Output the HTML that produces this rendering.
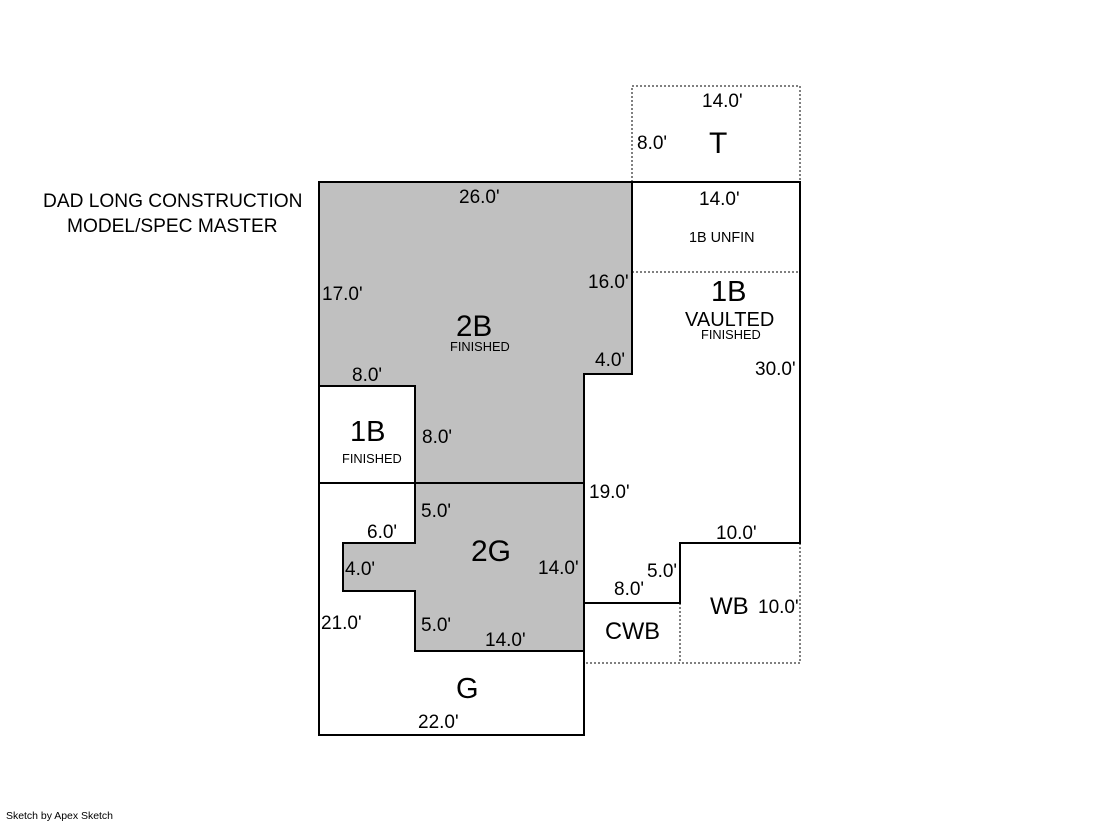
<!DOCTYPE html>
<html><head><meta charset="utf-8"><style>
html,body{margin:0;padding:0;background:#fff}
svg{display:block}
text{font-family:"Liberation Sans",Arial,sans-serif;fill:#000}
.d{font-size:19px}
.b{font-size:29px}
.m{font-size:20px}
.s{font-size:12.8px}
</style></head><body>
<svg width="1119" height="821" viewBox="0 0 1119 821" xmlns="http://www.w3.org/2000/svg">
<rect width="1119" height="821" fill="#fff"/>
<path d="M319 182H632V374H584V483H415V386H319Z" fill="#c0c0c0"/>
<path d="M415 483H584V651H415V591H343V543H415Z" fill="#c0c0c0"/>
<g fill="none" stroke="#808080" stroke-width="2" stroke-dasharray="2 2">
<path d="M632 182V86H800V182"/>
<path d="M632 272H800"/>
<path d="M800 543V663H584"/>
<path d="M680 603V663"/>
</g>
<g fill="none" stroke="#000" stroke-width="2">
<path d="M319 735V182H801M800 182V272"/>
<path d="M800 272V544M801 543H680V603H584V735H318"/>
<path d="M632 182V374H584V603"/>
<path d="M319 386H415V543H343V591H415V651H584"/>
<path d="M319 483H584"/>
</g>
<text x="702" y="107" class="d">14.0'</text>
<text x="637" y="149" class="d">8.0'</text>
<text x="699" y="205" class="d">14.0'</text>
<text x="459" y="203" class="d">26.0'</text>
<text x="322" y="300" class="d">17.0'</text>
<text x="588" y="288" class="d">16.0'</text>
<text x="595" y="366" class="d">4.0'</text>
<text x="352" y="381" class="d">8.0'</text>
<text x="422" y="443" class="d">8.0'</text>
<text x="755" y="375" class="d">30.0'</text>
<text x="589" y="498" class="d">19.0'</text>
<text x="421" y="517" class="d">5.0'</text>
<text x="367" y="538" class="d">6.0'</text>
<text x="345" y="575" class="d">4.0'</text>
<text x="538" y="574" class="d">14.0'</text>
<text x="321" y="629" class="d">21.0'</text>
<text x="421" y="631" class="d">5.0'</text>
<text x="485" y="646" class="d">14.0'</text>
<text x="418" y="728" class="d">22.0'</text>
<text x="716" y="539" class="d">10.0'</text>
<text x="647" y="577" class="d">5.0'</text>
<text x="614" y="595" class="d">8.0'</text>
<text x="758" y="613" class="d">10.0'</text>
<text x="709" y="153" font-size="30">T</text>
<text x="456" y="336" font-size="29.6">2B</text>
<text x="711" y="301" class="b">1B</text>
<text x="350" y="441" class="b">1B</text>
<text x="471" y="561" font-size="30">2G</text>
<text x="456" y="698" class="b">G</text>
<text x="710" y="614" font-size="24">WB</text>
<text x="605" y="639" font-size="23.6">CWB</text>
<text x="685" y="326" class="m">VAULTED</text>
<text x="450" y="351" class="s">FINISHED</text>
<text x="701" y="339" class="s">FINISHED</text>
<text x="342" y="463" class="s">FINISHED</text>
<text x="689" y="242" font-size="14.4">1B UNFIN</text>
<text x="43" y="207" font-size="19.15">DAD LONG CONSTRUCTION</text>
<text x="67" y="232" font-size="19.15">MODEL/SPEC MASTER</text>
<text x="6" y="819" font-size="10.5" textLength="107">Sketch by Apex Sketch</text>
</svg>
</body></html>
